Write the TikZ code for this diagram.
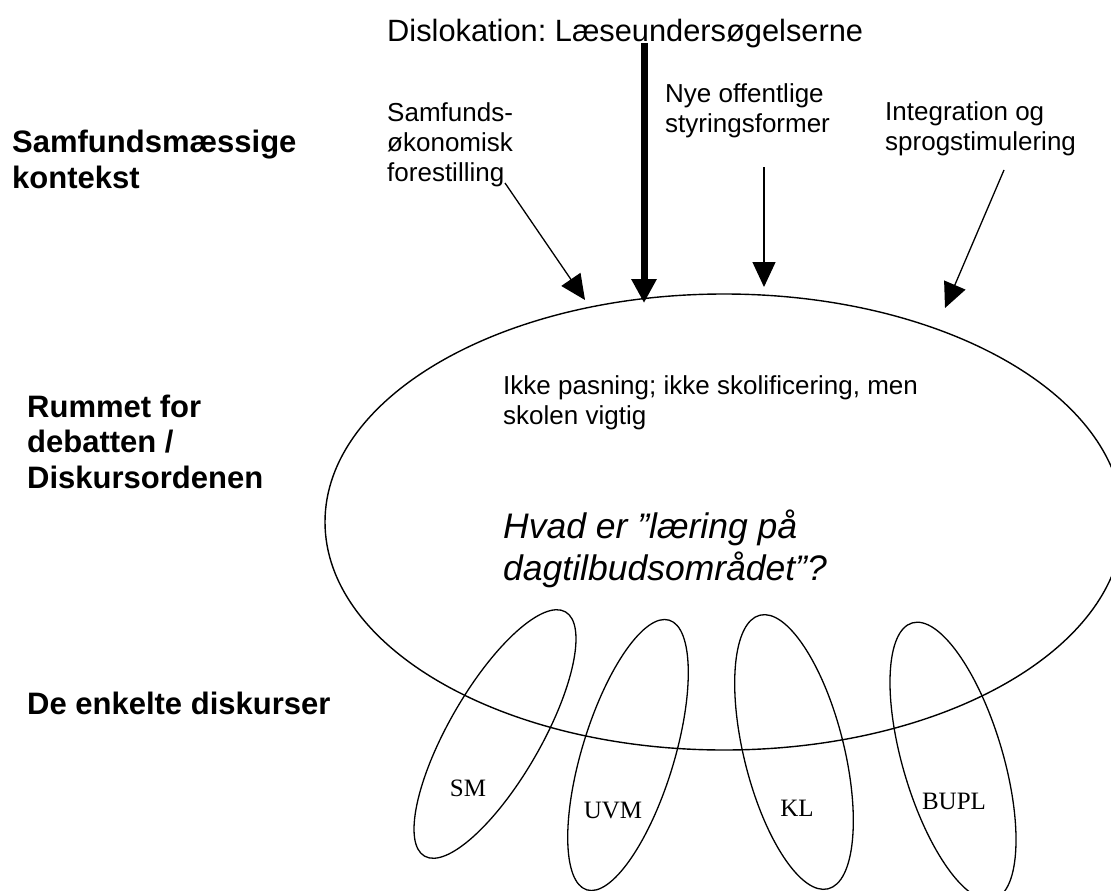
\documentclass[tikz,border=0pt]{standalone}
\usepackage{fontspec}
\setmainfont{Liberation Sans}
\newfontfamily\serifnames{Liberation Serif}
\usetikzlibrary{arrows.meta,shapes.geometric}
\frenchspacing
\begin{document}
\begin{tikzpicture}[x=1pt,y=-1pt,
  txt/.style={inner sep=0pt, anchor=base west, align=left, font=\fontsize{26}{30}\selectfont\frenchspacing},
  boldlbl/.style={inner sep=0pt, anchor=base west, align=left, font=\fontsize{31}{35.5}\selectfont\bfseries},
  disc/.style={draw, ellipse, line width=1.3pt, minimum width=282pt, minimum height=92pt, inner sep=0pt},
  lbl/.style={inner sep=0pt, font=\fontsize{25}{28}\selectfont\serifnames},
  thinarrow/.style={line width=1.3pt, -{Triangle[width=23pt,length=25pt]}},
  thickarrow/.style={line width=7pt, -{Triangle[width=24pt,length=24pt]}}]
\useasboundingbox (0,0) rectangle (1111,891);
\fill[white] (0,0) rectangle (1111,891);

% texts (anchor = baseline of the last line)
\node[txt, font=\fontsize{30.8}{34}\selectfont\frenchspacing] (disl) at (387,42) {Dislokation: Læseundersøgelserne};
\node[txt] (samf) at (387,181) {Samfunds-\\økonomisk\\forestilling};
\node[txt] (nye) at (665,132) {Nye offentlige\\styringsformer};
\node[txt] (integ) at (885,150) {Integration og\\sprogstimulering};
\node[boldlbl] (ctx) at (12,188) {Samfundsmæssige\\kontekst};
\node[boldlbl] (roomlbl) at (27,488) {Rummet for\\debatten /\\Diskursordenen};
\node[boldlbl] (disclbl) at (27,714) {De enkelte diskurser};

% big ellipse
\node[draw, ellipse, line width=1.4pt, minimum width=798pt, minimum height=456pt, inner sep=0pt] (room) at (724,522) {};
\node[txt] (claim) at (503,424) {Ikke pasning; ikke skolificering, men\\skolen vigtig};
\node[txt, font=\fontsize{35.5}{42}\selectfont\itshape\frenchspacing] (q) at (503,580) {Hvad er ”læring på\\dagtilbudsområdet”?};

% small ellipses
\node[disc, rotate=60] (sm) at (495,734) {};
\node[disc, rotate=73] (uvm) at (628,755) {};
\node[disc, rotate=104, minimum height=100pt] (kl) at (794,752) {};
\node[disc, rotate=106.5, minimum width=288pt, minimum height=100pt] (bupl) at (953,761) {};
\node[lbl] (smt) at (468,788) {SM};
\node[lbl] (uvmt) at (613,810) {UVM};
\node[lbl] (klt) at (797,808) {KL};
\node[lbl] (buplt) at (954,801) {BUPL};

% arrows
\coordinate (a1s) at (505,183);
\coordinate (a1e) at (585,300);
\coordinate (a2s) at (644,43);
\coordinate (a2e) at (644,303);
\coordinate (a3s) at (764,167);
\coordinate (a3e) at (764,287);
\coordinate (a4s) at (1004,170);
\coordinate (a4e) at (945,308);
\draw[thinarrow] (a1s) -- (a1e);
\draw[thickarrow] (a2s) -- (a2e);
\draw[thinarrow] (a3s) -- (a3e);
\draw[thinarrow] (a4s) -- (a4e);
\end{tikzpicture}
\end{document}
